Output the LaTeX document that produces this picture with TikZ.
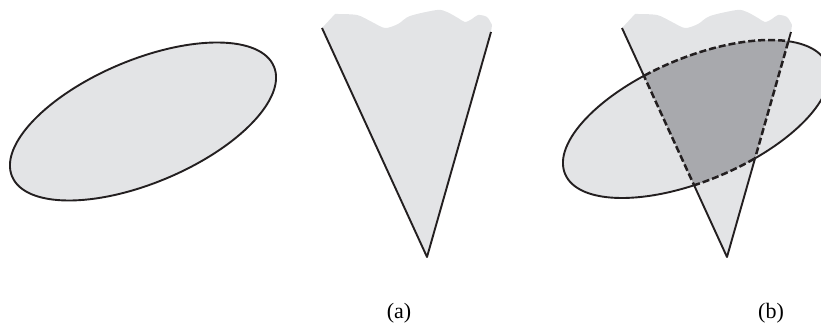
\documentclass[tikz,border=0pt]{standalone}
\usepackage{fontspec}
\setmainfont{Liberation Serif}
\definecolor{lightg}{RGB}{227,228,230}
\definecolor{darkg}{RGB}{168,169,173}
\definecolor{ink}{RGB}{35,31,32}
\tikzset{
  outline/.style={draw=ink, line width=1.9pt, line join=round},
  dashline/.style={draw=ink, line width=2.5pt, dash pattern=on 7pt off 3pt},
  ellA/.style={rotate around={22.8:(143,207.5)}},
  ellB/.style={rotate around={22.8:(696,210)}},
  lbl/.style={font=\fontsize{22}{26}\selectfont, inner sep=0pt},
}
\begin{document}
\begin{tikzpicture}[x=1pt,y=1pt]
\useasboundingbox (0,0) rectangle (821,329);
% ---------- (a) ----------
\path[ellA, fill=lightg, outline] (143,207.5) ellipse [x radius=142, y radius=61.5];
\coordinate (aL) at (322,301);
\coordinate (aR) at (491,297);
\coordinate (aA) at (427,72);
\fill[lightg] (aL) -- plot[smooth, tension=0.5] coordinates {(335,315) (357,314) (372,307) (385,301) (398,305) (410,313) (437,319) (447,317) (458,311) (465,307) (472,310) (478,314) (487,312) (492,304)} -- (aR) -- (aA) -- cycle;
\draw[outline] (aL) -- (aA) -- (aR);
% ---------- (b) ----------
\coordinate (bL) at (622,301);
\coordinate (bR) at (791,297);
\coordinate (bA) at (727,72);
\path[ellB, fill=lightg] (696,210) ellipse [x radius=142, y radius=61.5];
\fill[lightg] (bL) -- plot[smooth, tension=0.5] coordinates {(635,315) (657,314) (672,307) (685,301) (698,305) (710,313) (737,319) (747,317) (758,311) (765,307) (772,310) (778,314) (787,312) (792,304)} -- (bR) -- (bA) -- cycle;
\begin{scope}
  \clip (bL) -- (bA) -- (bR) -- cycle;
  \path[ellB, fill=darkg] (696,210) ellipse [x radius=142, y radius=61.5];
  \path[ellB, dashline] (696,210) ellipse [x radius=142, y radius=61.5];
\end{scope}
\begin{scope}[even odd rule]
  \clip (0,0) rectangle (821,329) (bL) -- (bA) -- (bR) -- cycle;
  \path[ellB, outline] (696,210) ellipse [x radius=142, y radius=61.5];
\end{scope}
\begin{scope}[even odd rule, ellB]
  \clip (-2000,-2000) rectangle (3000,3000) (696,210) ellipse [x radius=142, y radius=61.5];
  \draw[outline] (bL) -- (bA) -- (bR);
\end{scope}
\begin{scope}[ellB]
  \clip (696,210) ellipse [x radius=142, y radius=61.5];
  \draw[dashline] (bL) -- (bA);
  \draw[dashline] (bR) -- (bA);
\end{scope}
% ---------- labels ----------
\node[lbl] (la) at (399,16) {(a)};
\node[lbl] (lb) at (771,16) {(b)};
\end{tikzpicture}
\end{document}
